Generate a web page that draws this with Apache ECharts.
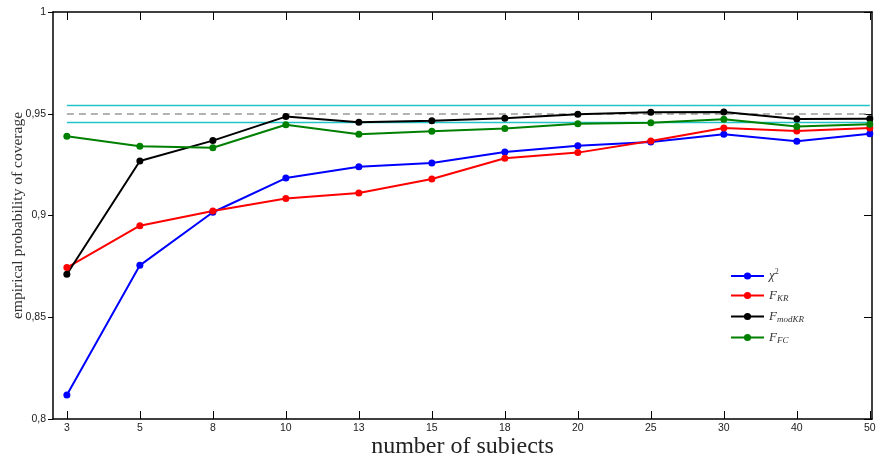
<!DOCTYPE html>
<html>
<head>
<meta charset="utf-8">
<script src="https://cdn.jsdelivr.net/npm/echarts@6/dist/echarts.min.js"></script>
<style>
  html, body { margin: 0; padding: 0; background: #fff; }
  #chart { width: 878px; height: 454px; }
</style>
</head>
<body>
<div id="chart"></div>
<script>
const subjects = ['3', '5', '8', '10', '13', '15', '18', '20', '25', '30', '40', '50']
const chi2 = [0.8118, 0.8755, 0.9016, 0.9184, 0.9240, 0.9258, 0.9312, 0.9343, 0.9361, 0.9399, 0.9365, 0.9402]
const fKR = [0.8744, 0.8950, 0.9022, 0.9084, 0.9111, 0.9179, 0.9281, 0.9309, 0.9366, 0.9430, 0.9415, 0.9430]
const fModKR = [0.8711, 0.9268, 0.9368, 0.9486, 0.9458, 0.9466, 0.9478, 0.9497, 0.9507, 0.9509, 0.9474, 0.9476]
const fFC = [0.9389, 0.9340, 0.9333, 0.9446, 0.9399, 0.9414, 0.9427, 0.9451, 0.9456, 0.9473, 0.9437, 0.9448]
const nominal = 0.95
const bandLow = 0.9457
const bandHigh = 0.9543

const myChart = echarts.init(document.getElementById('chart'))
const idx = subjects.map((s, i) => i)
const pairs = arr => arr.map((v, i) => [i, v])
const tickFont = { fontFamily: 'Liberation Sans', fontSize: 10.5, color: '#222' }
const serif = 'Liberation Serif'
const frameLine = { show: true, onZero: false, lineStyle: { color: '#000', width: 1.5 } }

const hLine = (v, color, type, width) => ({
  symbol: 'none',
  silent: true,
  label: { show: false },
  lineStyle: { color, type, width },
  data: [[{ coord: [0, v] }, { coord: [subjects.length - 1, v] }]]
})

const mkSeries = (name, data, color) => ({
  name,
  type: 'line',
  data: pairs(data),
  symbol: 'circle',
  symbolSize: 7,
  itemStyle: { color },
  lineStyle: { color, width: 2 },
  z: 5
})

const option = {
  animation: false,
  grid: { left: 53, right: 6, top: 12, bottom: 35, outerBoundsMode: 'none', containLabel: false },
  legend: {
    orient: 'vertical',
    left: 725,
    top: 263,
    itemWidth: 33,
    itemHeight: 9,
    itemGap: 6,
    data: ['chi2', 'FKR', 'FmodKR', 'FFC'],
    formatter: function (name) {
      const map = {
        chi2: '{i|χ}{sup|2}',
        FKR: '{i|F}{sub|KR}',
        FmodKR: '{i|F}{sub|modKR}',
        FFC: '{i|F}{sub|FC}'
      }
      return map[name]
    },
    textStyle: {
      rich: {
        i: { fontFamily: serif, fontStyle: 'italic', fontSize: 13, color: '#333', lineHeight: 16, verticalAlign: 'middle' },
        sub: { fontFamily: serif, fontStyle: 'italic', fontSize: 9, color: '#333', lineHeight: 16, verticalAlign: 'bottom', padding: [6, 0, 0, 0] },
        sup: { fontFamily: serif, fontSize: 8, color: '#333', lineHeight: 16, verticalAlign: 'top', padding: [0, 0, 6, 0] }
      }
    }
  },
  xAxis: [
    {
      type: 'value',
      min: -0.19,
      max: 11.03,
      position: 'bottom',
      name: 'number of subjects',
      nameLocation: 'middle',
      nameGap: 16,
      nameMoveOverlap: false,
      nameTextStyle: { fontFamily: serif, fontSize: 24, color: '#222', verticalAlign: 'top' },
      axisLine: frameLine,
      axisTick: { show: true, inside: true, length: 8, lineStyle: { color: '#000' }, customValues: idx },
      axisLabel: {
        ...tickFont,
        margin: 4,
        customValues: idx,
        formatter: v => subjects[Math.round(v)]
      },
      splitLine: { show: false }
    },
    {
      type: 'value',
      min: -0.19,
      max: 11.03,
      position: 'top',
      axisLine: frameLine,
      axisTick: { show: true, inside: true, length: 8, lineStyle: { color: '#000' }, customValues: idx },
      axisLabel: { show: false },
      splitLine: { show: false }
    }
  ],
  yAxis: [
    {
      type: 'value',
      min: 0.8,
      max: 1,
      interval: 0.05,
      position: 'left',
      name: 'empirical probability of coverage',
      nameLocation: 'middle',
      nameGap: 27,
      nameMoveOverlap: false,
      nameTextStyle: { fontFamily: serif, fontSize: 15.5, color: '#333' },
      axisLine: frameLine,
      axisTick: { show: true, inside: false, length: 5, lineStyle: { color: '#000' } },
      axisLabel: {
        ...tickFont,
        margin: 7,
        formatter: v => String(+v.toFixed(2)).replace('.', ',')
      },
      splitLine: { show: false }
    },
    {
      type: 'value',
      min: 0.8,
      max: 1,
      interval: 0.05,
      position: 'right',
      axisLine: frameLine,
      axisTick: { show: true, inside: true, length: 8, lineStyle: { color: '#000' } },
      axisLabel: { show: false },
      splitLine: { show: false }
    }
  ],
  series: [
    { name: 'nominal', type: 'line', data: [], markLine: hLine(nominal, '#999', [7, 5], 1.5) },
    { name: 'bandHigh', type: 'line', data: [], markLine: hLine(bandHigh, '#22c4c8', 'solid', 1.3) },
    { name: 'bandLow', type: 'line', data: [], markLine: hLine(bandLow, '#22c4c8', 'solid', 1.3) },
    mkSeries('chi2', chi2, '#0000ff'),
    mkSeries('FKR', fKR, '#ff0000'),
    mkSeries('FmodKR', fModKR, '#000000'),
    mkSeries('FFC', fFC, '#008000')
  ]
}

myChart.setOption(option)
</script>
</body>
</html>
